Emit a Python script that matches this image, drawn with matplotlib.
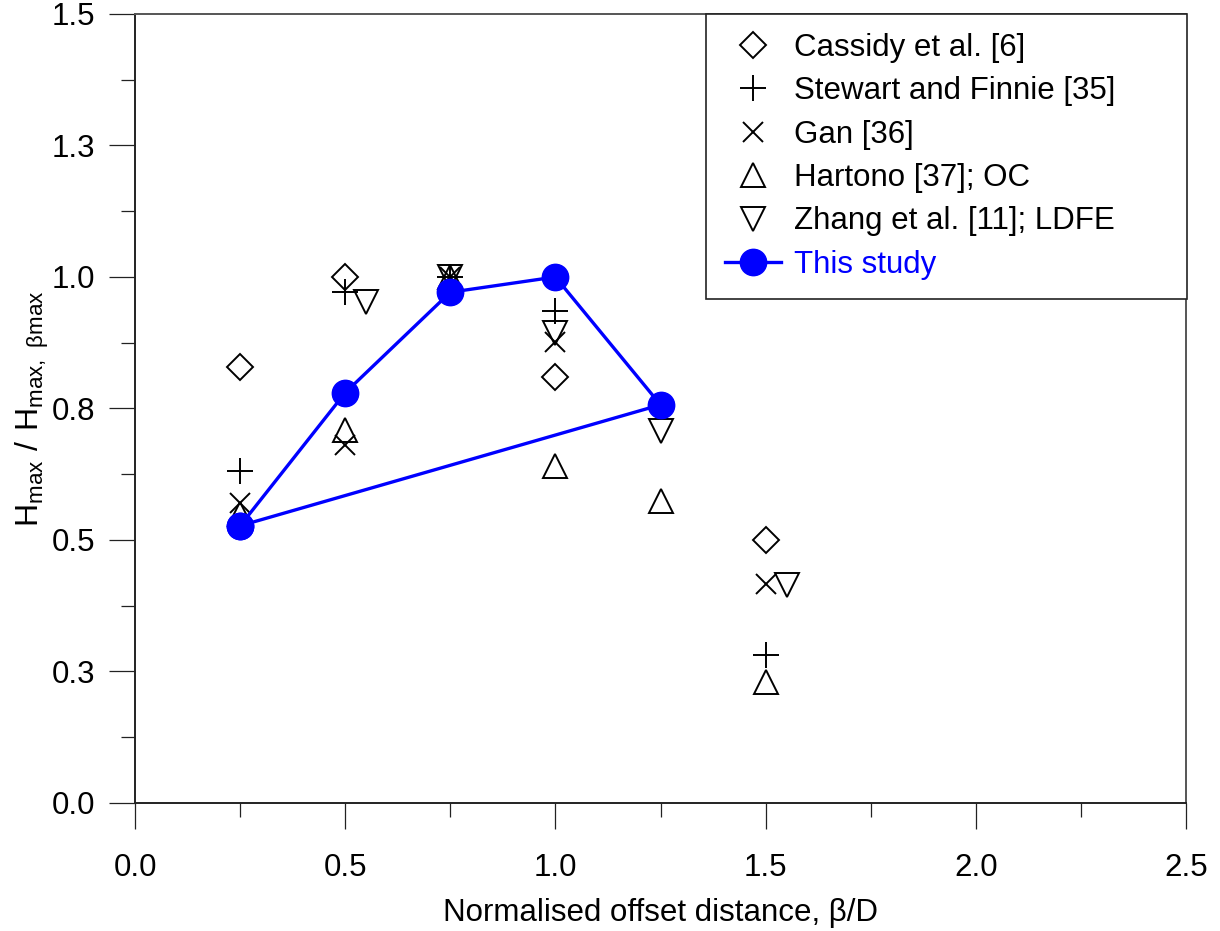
import numpy as np
import matplotlib.pyplot as plt
from matplotlib.ticker import MultipleLocator

plt.rcParams['font.family'] = ['Liberation Sans', 'DejaVu Sans']
plt.rcParams['mathtext.fontset'] = 'custom'
plt.rcParams['mathtext.rm'] = 'Liberation Sans'

# data
cassidy_x = [0.25, 0.5, 1.0, 1.5]
cassidy_y = [0.828, 1.0, 0.81, 0.50]

stewart_x = [0.25, 0.5, 0.75, 1.0, 1.5]
stewart_y = [0.632, 0.971, 1.0, 0.936, 0.281]

gan_x = [0.25, 0.5, 0.75, 1.0, 1.5]
gan_y = [0.571, 0.681, 1.0, 0.877, 0.417]

hartono_x = [0.25, 0.5, 0.75, 1.0, 1.25, 1.5]
hartono_y = [0.55, 0.71, 1.0, 0.641, 0.574, 0.230]

zhang_x = [0.55, 0.75, 1.0, 1.25, 1.55]
zhang_y = [0.953, 1.0, 0.894, 0.708, 0.414]

# this study, closed loop back to the first point
study_x = [0.25, 0.5, 0.75, 1.0, 1.25, 0.25]
study_y = [0.527, 0.780, 0.971, 1.0, 0.757, 0.527]

yticks = [0.0, 0.25, 0.5, 0.75, 1.0, 1.25, 1.5]
ytick_labels = ['0.0', '0.3', '0.5', '0.8', '1.0', '1.3', '1.5']
xticks = [0.0, 0.5, 1.0, 1.5, 2.0, 2.5]
xtick_labels = ['0.0', '0.5', '1.0', '1.5', '2.0', '2.5']

fig = plt.figure(figsize=(12.2, 9.31), dpi=100)
ax = fig.add_axes([0.1107, 0.1375, 0.8614, 0.8475])

mk = dict(linestyle='none', markerfacecolor='none', markeredgecolor='black',
          markeredgewidth=1.4, color='black')
ax.plot(cassidy_x, cassidy_y, marker='D', markersize=13.5, label='Cassidy et al. [6]', **mk)
ax.plot(stewart_x, stewart_y, marker='+', markersize=19, label='Stewart and Finnie [35]', **mk)
ax.plot(gan_x, gan_y, marker='x', markersize=14.5, label='Gan [36]', **mk)
ax.plot(hartono_x, hartono_y, marker='^', markersize=17, label='Hartono [37]; OC', **mk)
ax.plot(zhang_x, zhang_y, marker='v', markersize=17, label='Zhang et al. [11]; LDFE', **mk)
ax.plot(study_x, study_y, color='#0000ff', linewidth=2.4, marker='o', markersize=19,
        markerfacecolor='#0000ff', markeredgecolor='#0000ff', label='This study', zorder=5)

ax.set_xlim(0, 2.5)
ax.set_ylim(0, 1.5)
ax.set_xticks(xticks)
ax.set_xticklabels(xtick_labels)
ax.set_yticks(yticks)
ax.set_yticklabels(ytick_labels)
ax.xaxis.set_minor_locator(MultipleLocator(0.25))
ax.yaxis.set_minor_locator(MultipleLocator(0.125))

ax.tick_params(which='major', direction='out', length=19, width=0.9, labelsize=22.5, color='#222222')
ax.tick_params(which='minor', direction='out', length=10, width=0.9, color='#222222')
ax.tick_params(axis='x', which='major', pad=17)
ax.tick_params(axis='y', which='major', pad=10)

for side in ['left', 'bottom']:
    ax.spines[side].set_color('#222222')
    ax.spines[side].set_linewidth(1.4)
for side in ['top', 'right']:
    ax.spines[side].set_color('#555555')
    ax.spines[side].set_linewidth(1.4)

ax.set_xlabel('Normalised offset distance, \u03b2/D', fontsize=22.5, labelpad=11)
ax.set_ylabel(r'$\mathregular{H_{max}\ /\ H_{max,\ \beta max}}$', fontsize=23, labelpad=0)

leg = ax.legend(loc='upper right', bbox_to_anchor=(0.5433, 0.0, 0.4577, 1.0), mode='expand',
                borderaxespad=0, fontsize=22.5, numpoints=1, frameon=True, fancybox=False,
                framealpha=1, edgecolor='#222222', labelspacing=0.43, handlelength=1.8,
                handletextpad=0.4, borderpad=0.6)
leg.get_frame().set_linewidth(1.2)
leg.get_texts()[-1].set_color('#0000ff')

fig.savefig('out.png', dpi=100)
